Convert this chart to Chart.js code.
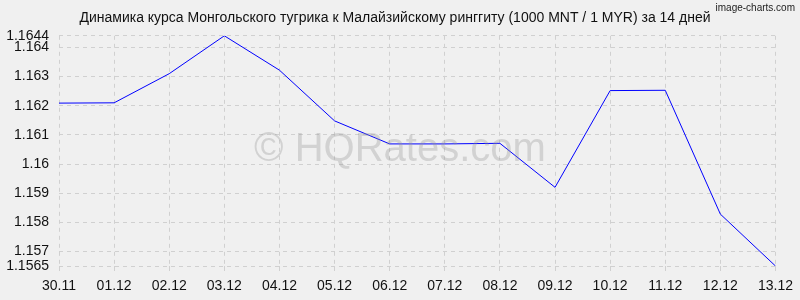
<!DOCTYPE html>
<html>
<head>
<meta charset="utf-8">
<script src="https://cdn.jsdelivr.net/npm/chart.js@4"></script>
<style>
  html, body { margin: 0; padding: 0; background: #f0f0f0; }
  #wrap { width: 800px; height: 300px; }
</style>
</head>
<body>
<div id="wrap"><canvas id="rateChart"></canvas></div>
<script>
// даты и курс 1000 MNT / 1 MYR
const days = ['30.11', '01.12', '02.12', '03.12', '04.12', '05.12', '06.12',
              '07.12', '08.12', '09.12', '10.12', '11.12', '12.12', '13.12'];
const rates = [1.16209, 1.16210, 1.16310, 1.16440, 1.16322, 1.16148, 1.16069,
               1.16069, 1.16071, 1.15920, 1.16252, 1.16253, 1.15828, 1.15650];
const yTicks = [1.1565, 1.157, 1.158, 1.159, 1.16, 1.161, 1.162, 1.163, 1.164, 1.1644];
const yMin = 1.1565;
const yMax = 1.1644;

const titleText = 'Динамика курса Монгольского тугрика к Малайзийскому ринггиту (1000 MNT / 1 MYR) за 14 дней';

// водяной знак и подпись сверху справа
const overlayPlugin = {
  id: 'overlay',
  afterDatasetsDraw(chart) {
    const ctx = chart.ctx;
    ctx.save();
    ctx.fillStyle = 'rgba(150,150,150,0.33)';
    ctx.font = '40px "Liberation Sans", Arial, sans-serif';
    ctx.textAlign = 'center';
    ctx.textBaseline = 'middle';
    ctx.fillText('© HQRates.com', 400, 150);
    ctx.restore();
  },
  afterDraw(chart) {
    const ctx = chart.ctx;
    ctx.save();
    ctx.fillStyle = '#222';
    ctx.font = '10px "Liberation Sans", Arial, sans-serif';
    ctx.textAlign = 'right';
    ctx.textBaseline = 'top';
    ctx.fillText('image-charts.com', 795, 3);
    ctx.restore();
  }
};

new Chart(document.getElementById('rateChart').getContext('2d'), {
  type: 'line',
  data: {
    labels: days,
    datasets: [{
      data: rates,
      borderColor: '#0000ff',
      borderWidth: 1,
      pointRadius: 0,
      fill: false,
      tension: 0
    }]
  },
  options: {
    responsive: true,
    maintainAspectRatio: false,
    animation: false,
    layout: { padding: { right: 15, left: 5, bottom: 0 } },
    plugins: {
      legend: { display: false },
      tooltip: { enabled: false },
      title: {
        display: true,
        text: titleText,
        color: '#111',
        font: { family: '"Liberation Sans", Arial, sans-serif', size: 14, weight: 'normal' },
        padding: { top: 10, bottom: 9 }
      }
    },
    scales: {
      x: {
        offset: false,
        grid: { color: '#d0d0d0', tickLength: 5, tickColor: '#d0d0d0' },
        border: { display: false, dash: [4, 4] },
        ticks: {
          color: '#111',
          autoSkip: false,
          maxRotation: 0,
          padding: 7,
          font: { family: '"Liberation Sans", Arial, sans-serif', size: 14 }
        },
        afterFit(scale) { scale.height = 34; }
      },
      y: {
        min: yMin,
        max: yMax,
        grid: { color: '#d0d0d0', drawTicks: false },
        border: { display: false, dash: [4, 4] },
        afterBuildTicks(scale) {
          scale.ticks = yTicks.map(v => ({ value: v }));
        },
        ticks: {
          color: '#111',
          autoSkip: false,
          padding: 10,
          font: { family: '"Liberation Sans", Arial, sans-serif', size: 14 },
          callback: v => String(v)
        },
        afterFit(scale) { scale.width = 54; }
      }
    }
  },
  plugins: [overlayPlugin]
});
</script>
</body>
</html>
